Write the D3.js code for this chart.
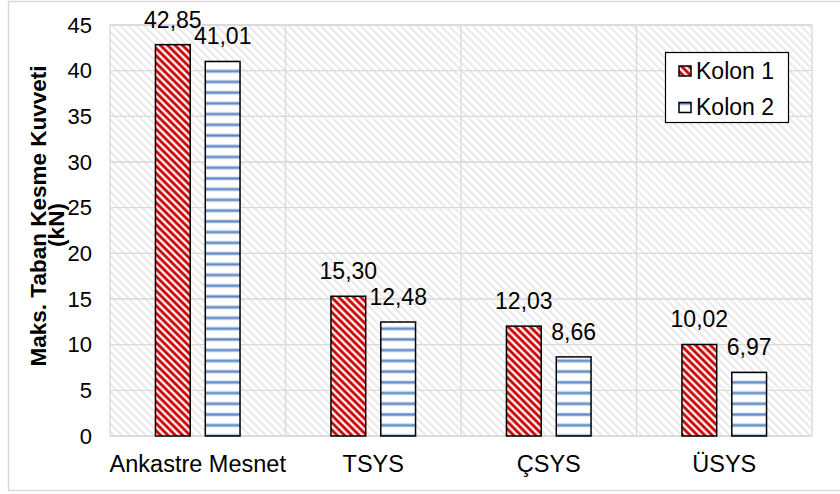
<!DOCTYPE html>
<html><head><meta charset="utf-8">
<script src="https://cdn.jsdelivr.net/npm/d3@7"></script>
<style>html,body{margin:0;padding:0;background:#fff;}svg{display:block;font-family:"Liberation Sans",Arial,sans-serif;}</style>
</head><body>
<svg id="c" width="840" height="494"></svg>
<script>
const categories = ["Ankastre Mesnet", "TSYS", "ÇSYS", "ÜSYS"];
const kolon1 = [42.85, 15.30, 12.03, 10.02];
const kolon2 = [41.01, 12.48, 8.66, 6.97];
const seriesNames = ["Kolon 1", "Kolon 2"];
const yTicks = [0, 5, 10, 15, 20, 25, 30, 35, 40, 45];
const yTitle = ["Maks. Taban Kesme Kuvveti", "(kN)"];

const svg = d3.select("#c");
const L = 110, R = 812, T = 25, B = 436;
const y = d3.scaleLinear().domain([0, 45]).range([B, T]);
const x = d3.scaleBand().domain(categories).range([L, R]).padding(0);
const bw = x.bandwidth();
const barW = bw * 0.198, gap = bw * 0.086;
const fmt = v => d3.format(".2f")(v).replace(".", ",");

const defs = svg.append("defs");
// background hatch
const bg = defs.append("pattern").attr("id", "bgHatch").attr("patternUnits", "userSpaceOnUse")
  .attr("width", 5.66).attr("height", 5.66).attr("patternTransform", "rotate(45)");
bg.append("rect").attr("width", 5.66).attr("height", 5.66).attr("fill", "#fff");
bg.append("rect").attr("y", 0).attr("width", 5.66).attr("height", 2.0).attr("fill", "#e9e9e9");
// red diagonal
const rp = defs.append("pattern").attr("id", "redHatch").attr("patternUnits", "userSpaceOnUse")
  .attr("width", 5.2).attr("height", 5.2).attr("patternTransform", "rotate(45)");
rp.append("rect").attr("width", 5.2).attr("height", 5.2).attr("fill", "#fff");
rp.append("rect").attr("y", 0).attr("width", 5.2).attr("height", 3.6).attr("fill", "#ec9a9a");
rp.append("rect").attr("y", 0.6).attr("width", 5.2).attr("height", 2.4).attr("fill", "#c80000");
// blue horizontal
const per = 10.73;
const bp = defs.append("pattern").attr("id", "blueHatch").attr("patternUnits", "userSpaceOnUse")
  .attr("width", 10).attr("height", per).attr("y", y(0) - per / 2);
bp.append("rect").attr("width", 10).attr("height", per).attr("fill", "#fff");
bp.append("rect").attr("y", per / 2 - 2).attr("width", 10).attr("height", 4).attr("fill", "#c9d8ee");
bp.append("rect").attr("y", per / 2 - 1).attr("width", 10).attr("height", 2).attr("fill", "#5a86c4");

// outer border
svg.append("rect").attr("x", 8.5).attr("y", 1.5).attr("width", 840).attr("height", 489)
  .attr("fill", "#fff").attr("stroke", "#d9d9d9").attr("stroke-width", 1.5);

// plot area
svg.append("rect").attr("x", L).attr("y", T).attr("width", R - L).attr("height", B - T)
  .attr("fill", "url(#bgHatch)");
// gridlines
svg.append("g").selectAll("line").data(yTicks).join("line")
  .attr("x1", L).attr("x2", R).attr("y1", d => y(d)).attr("y2", d => y(d))
  .attr("stroke", "#d9d9d9").attr("stroke-width", 1.3);
svg.append("g").selectAll("line").data(categories.slice(1)).join("line")
  .attr("x1", d => x(d)).attr("x2", d => x(d)).attr("y1", T).attr("y2", B)
  .attr("stroke", "#d9d9d9").attr("stroke-width", 1.3);
svg.append("rect").attr("x", L).attr("y", T).attr("width", R - L).attr("height", B - T)
  .attr("fill", "none").attr("stroke", "#d9d9d9").attr("stroke-width", 1.3);

// y axis via d3 axis
const yAx = svg.append("g").attr("transform", `translate(${L},0)`)
  .call(d3.axisLeft(y).tickValues(yTicks).tickSize(0).tickPadding(18).tickFormat(d3.format("d")));
yAx.select(".domain").remove();
yAx.selectAll("text").attr("font-size", 22).attr("fill", "#000").attr("font-family", "Liberation Sans, Arial, sans-serif");

// x axis labels
const xAx = svg.append("g").attr("transform", `translate(0,${B})`)
  .call(d3.axisBottom(x).tickSize(0).tickPadding(19));
xAx.select(".domain").remove();
xAx.selectAll("text").attr("font-size", 23.5).attr("fill", "#000").attr("font-family", "Liberation Sans, Arial, sans-serif");

// bars
const series = [
  { name: seriesNames[0], vals: kolon1, fill: "url(#redHatch)", off: 0 },
  { name: seriesNames[1], vals: kolon2, fill: "url(#blueHatch)", off: 1 }
];
const groupW = barW * 2 + gap;
series.forEach(s => {
  const bx = c => x(c) + (bw - groupW) / 2 + s.off * (barW + gap);
  svg.append("g").selectAll("rect").data(categories).join("rect")
    .attr("x", c => bx(c)).attr("width", barW)
    .attr("y", (c, i) => y(s.vals[i])).attr("height", (c, i) => y(0) - y(s.vals[i]))
    .attr("fill", s.fill).attr("stroke", "#000").attr("stroke-width", 1.5);
  svg.append("g").selectAll("text").data(categories).join("text")
    .attr("x", c => bx(c) + barW / 2).attr("y", (c, i) => y(s.vals[i]) - 17)
    .attr("text-anchor", "middle").attr("font-size", 23).attr("fill", "#000")
    .text((c, i) => fmt(s.vals[i]));
});

// y title
svg.append("text").attr("transform", "translate(46,216) rotate(-90)")
  .attr("text-anchor", "middle").attr("font-size", 22.5).attr("font-weight", "bold").attr("fill", "#000")
  .text(yTitle[0]);
svg.append("text").attr("transform", "translate(64,225) rotate(-90)")
  .attr("text-anchor", "middle").attr("font-size", 22.5).attr("font-weight", "bold").attr("fill", "#000")
  .text(yTitle[1]);

// legend
const lg = svg.append("g");
lg.append("rect").attr("x", 665.5).attr("y", 52.5).attr("width", 123).attr("height", 70)
  .attr("fill", "#fff").attr("stroke", "#000").attr("stroke-width", 1.2);
series.forEach((s, i) => {
  const cy = 71 + i * 36.5;
  lg.append("rect").attr("x", 679).attr("y", cy - 5).attr("width", 12).attr("height", 10)
    .attr("fill", s.fill).attr("stroke", "#000").attr("stroke-width", 1.5);
  lg.append("text").attr("x", 696).attr("y", cy + 7.5).attr("font-size", 23).attr("fill", "#000").text(s.name);
});
</script>
</body></html>
